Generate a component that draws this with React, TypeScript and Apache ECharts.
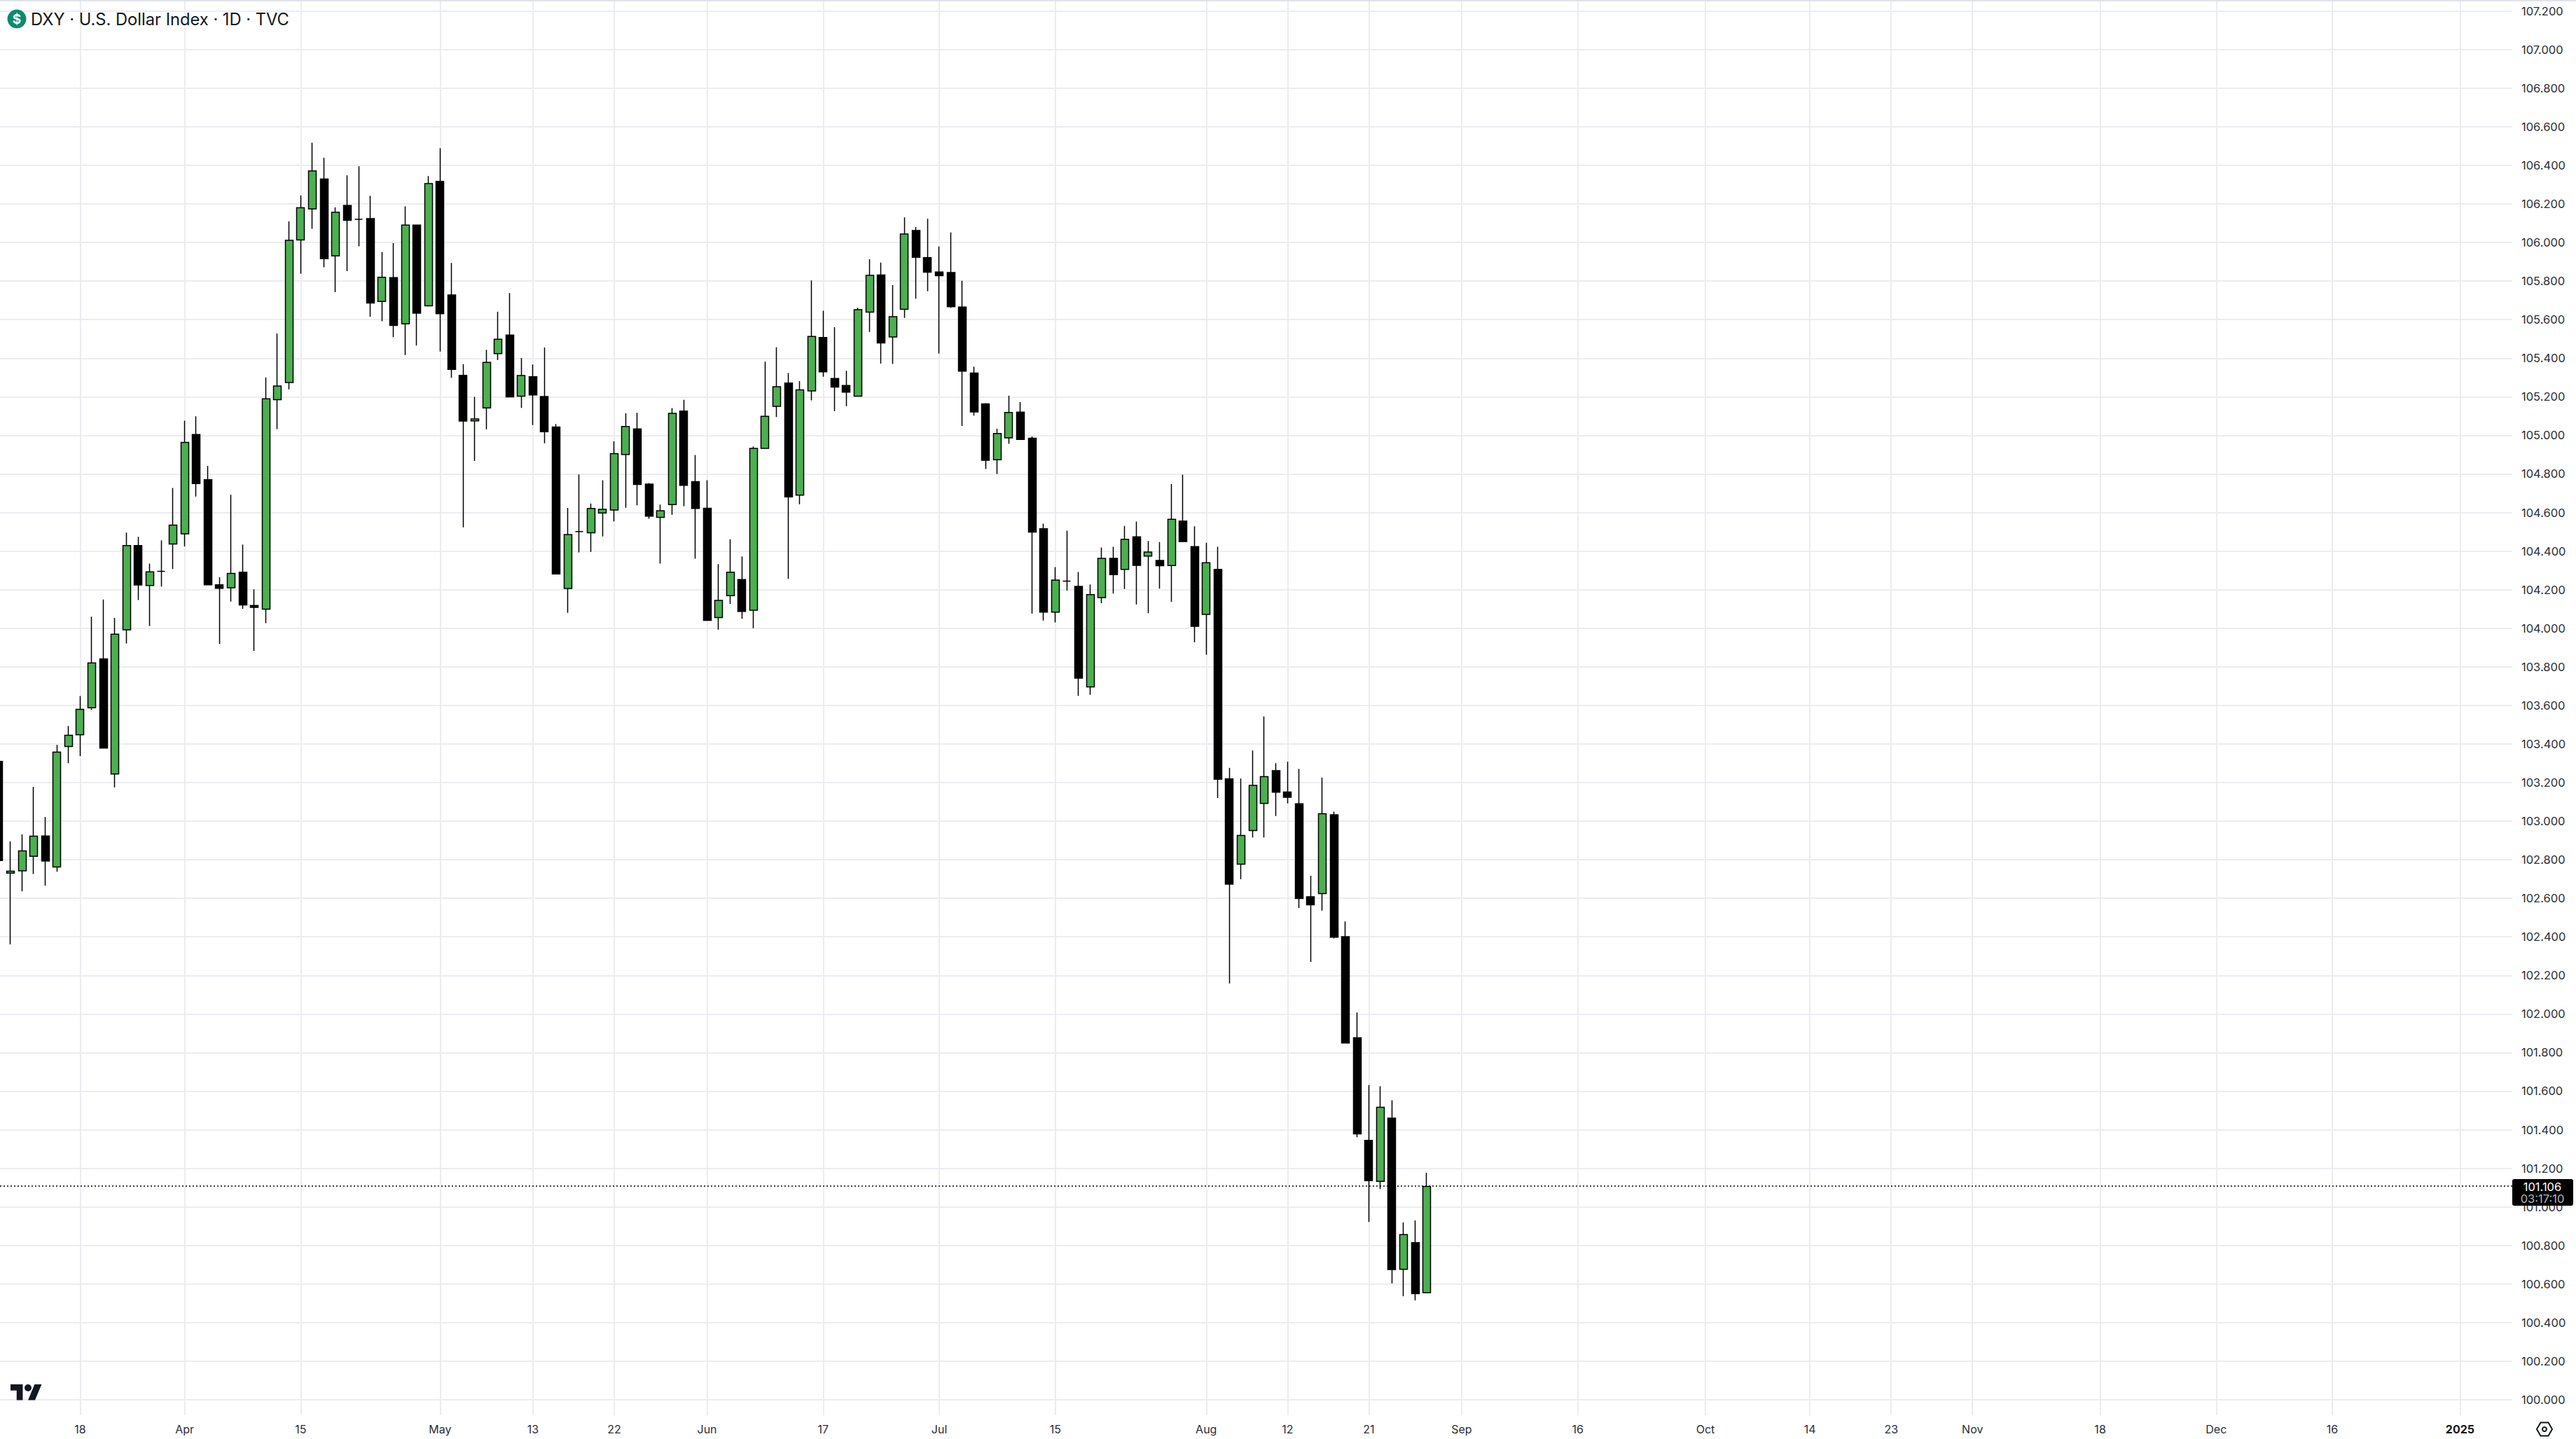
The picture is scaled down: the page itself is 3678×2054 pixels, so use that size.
import React, { useEffect, useRef } from "react";
import * as echarts from "echarts";

const firstIndex = -1;
const opens = [103.31,102.73,102.742,102.818,102.923,102.762,103.387,103.448,103.588,103.841,103.244,103.992,104.428,104.221,104.295,104.437,104.489,105.004,104.77,104.225,104.21,104.29,104.118,104.099,105.185,105.274,106.013,106.174,106.329,105.93,106.192,106.12,106.124,105.694,105.818,105.578,106.09,105.672,106.316,105.728,105.311,105.075,105.142,105.424,105.52,105.203,105.304,105.201,105.043,104.206,104.501,104.495,104.597,104.613,104.901,105.033,104.747,104.575,104.641,105.126,104.76,104.622,104.055,104.169,104.252,104.093,104.932,105.15,105.271,104.69,105.23,105.507,105.295,105.258,105.203,105.639,105.831,105.51,105.653,106.062,105.921,105.847,105.844,105.665,105.323,105.163,104.873,104.987,105.12,104.985,104.516,104.083,104.244,104.217,103.696,104.159,104.362,104.305,104.474,104.374,104.351,104.325,104.556,104.423,104.072,104.305,103.219,102.777,102.951,103.092,103.262,103.151,103.09,102.608,102.624,103.033,102.401,101.877,101.345,101.132,101.46,100.676,100.814,100.555];
const closes = [102.796,102.74,102.846,102.922,102.793,103.358,103.445,103.579,103.82,103.379,103.969,104.428,104.224,104.292,104.295,104.535,104.963,104.75,104.225,104.207,104.284,104.121,104.108,105.189,105.256,106.011,106.18,106.371,105.916,106.156,106.115,106.12,105.686,105.82,105.57,106.09,105.633,106.305,105.631,105.342,105.074,105.085,105.378,105.498,105.199,105.31,105.209,105.019,104.281,104.486,104.501,104.621,104.616,104.905,105.046,104.745,104.581,104.609,105.114,104.741,104.621,104.041,104.144,104.29,104.087,104.932,105.099,105.252,104.681,105.236,105.513,105.329,105.25,105.224,105.652,105.83,105.479,105.615,106.044,105.923,105.846,105.828,105.667,105.333,105.121,104.871,105.01,105.119,104.979,104.498,104.083,104.25,104.244,103.741,104.174,104.362,104.278,104.461,104.326,104.395,104.324,104.565,104.449,104.01,104.339,103.217,102.673,102.926,103.185,103.231,103.15,103.124,102.599,102.566,103.038,102.398,101.85,101.378,101.136,101.516,100.675,100.856,100.55,101.106];
const lows = [102.75,102.361,102.636,102.726,102.665,102.738,103.301,103.337,103.577,103.379,103.174,103.921,104.146,104.012,104.216,104.307,104.424,104.683,104.225,103.918,104.138,104.101,103.883,104.026,105.032,105.238,105.838,106.071,105.871,105.742,105.851,105.98,105.614,105.592,105.509,105.416,105.465,105.668,105.435,105.298,104.523,104.867,105.031,105.39,105.199,105.142,105.053,104.959,104.281,104.08,104.393,104.396,104.476,104.554,104.625,104.637,104.567,104.335,104.588,104.633,104.36,104.041,103.993,104.126,104.049,104.0,104.932,105.095,104.256,104.643,105.181,105.304,105.126,105.151,105.203,105.536,105.372,105.37,105.609,105.708,105.747,105.424,105.661,105.049,105.102,104.825,104.8,104.956,104.979,104.076,104.04,104.03,104.195,103.649,103.655,104.13,104.18,104.203,104.123,104.078,104.205,104.137,104.449,103.927,103.863,103.12,102.158,102.699,102.915,102.915,103.026,103.092,102.55,102.27,102.536,102.392,101.85,101.361,100.922,101.092,100.603,100.537,100.515,100.555];
const highs = [103.4,102.895,102.931,103.177,103.021,103.395,103.493,103.648,104.06,104.149,104.053,104.496,104.474,104.335,104.456,104.727,105.076,105.099,104.842,104.264,104.692,104.434,104.201,105.3,105.528,106.109,106.244,106.517,106.439,106.182,106.348,106.395,106.242,105.95,105.997,106.187,106.09,106.344,106.489,105.894,105.369,105.199,105.444,105.641,105.738,105.401,105.367,105.455,105.059,104.624,104.797,104.646,104.767,104.969,105.114,105.117,104.753,104.641,105.141,105.184,104.898,104.767,104.332,104.461,104.372,104.942,105.382,105.456,105.323,105.281,105.803,105.646,105.561,105.335,105.662,105.913,105.896,105.779,106.13,106.079,106.123,105.979,106.052,105.801,105.356,105.167,105.034,105.206,105.173,104.994,104.542,104.317,104.506,104.291,104.227,104.418,104.422,104.53,104.553,104.452,104.447,104.748,104.796,104.528,104.443,104.422,103.276,103.221,103.366,103.543,103.301,103.308,103.271,102.717,103.225,103.049,102.48,102.008,101.632,101.625,101.553,100.92,100.93,101.177];

const timeTickIndex = [6,15,25,37,45,52,60,70,80,90,103,110,117,125,135,146,155,162,169,180,190,200,211];
const timeTickLabels = ["18","Apr","15","May","13","22","Jun","17","Jul","15","Aug","12","21","Sep","16","Oct","14","23","Nov","18","Dec","16","2025"];
const priceTicks = ["100.000","100.200","100.400","100.600","100.800","101.000","101.200","101.400","101.600","101.800","102.000","102.200","102.400","102.600","102.800","103.000","103.200","103.400","103.600","103.800","104.000","104.200","104.400","104.600","104.800","105.000","105.200","105.400","105.600","105.800","106.000","106.200","106.400","106.600","106.800","107.000","107.200"];
const lastPrice = 101.106;
const countdown = "03:17:10";
const titleText = "DXY · U.S. Dollar Index · 1D · TVC";

const GRID = "#ecedf1";
const INK = "#131722";
const FONT = "Inter";

export default function App() {
  const ref = useRef<HTMLDivElement>(null);
  useEffect(() => {
    document.body.style.margin = "0";
    document.body.style.overflow = "hidden";
    echarts.graphic.registerShape(
      "tvlogo",
      echarts.graphic.extendPath(
        "M14 22H7V11H0V4h14v18zM28 22h-8l7.5-18h8L28 22zM24 8a4 4 0 1 1-8 0 4 4 0 0 1 8 0z",
        {}
      ) as any
    );
    const chart = echarts.init(ref.current!, undefined, { renderer: "svg" });
    const rows = opens.map((o, i) => [i + firstIndex, o, closes[i], lows[i], highs[i]]);
    const labelByIndex: Record<number, string> = {};
    timeTickIndex.forEach((t, i) => (labelByIndex[t] = timeTickLabels[i]));
    chart.setOption({
      animation: false,
      backgroundColor: "#ffffff",
      grid: { left: 0, top: 0, width: 3587, height: 2020, containLabel: false },
      xAxis: {
        type: "value",
        min: -0.905,
        max: 215.5,
        axisLine: { show: false },
        axisTick: { show: false, customValues: timeTickIndex },
        splitLine: { show: true, lineStyle: { color: GRID, width: 2 } },
        axisLabel: {
          customValues: timeTickIndex,
          margin: 12,
          fontFamily: FONT,
          fontSize: 16,
          color: "#2a2e39",
          formatter: (v: number) => {
            const s = labelByIndex[Math.round(v)] ?? "";
            return s === "2025" ? "{b|" + s + "}" : s;
          },
          rich: { b: { fontFamily: FONT, fontSize: 16, fontWeight: 700, color: INK } },
        },
      },
      yAxis: {
        type: "value",
        position: "right",
        min: 99.92,
        max: 107.257,
        axisLine: { show: false },
        axisTick: { show: false, customValues: priceTicks.map(Number) },
        splitLine: { show: true, lineStyle: { color: GRID, width: 2 } },
        axisLabel: {
          customValues: priceTicks.map(Number),
          margin: 13,
          fontFamily: FONT,
          fontSize: 16.5,
          color: "#2a2e39",
          formatter: (v: number) => v.toFixed(3),
        },
      },
      series: [
        {
          type: "candlestick",
          data: rows,
          barWidth: 11.5,
          itemStyle: {
            color: "#4caf50",
            color0: "#000000",
            borderColor: "#000000",
            borderColor0: "#000000",
            borderColorDoji: "#000000",
            borderWidth: 1.5,
          },
          markLine: {
            silent: true,
            symbol: "none",
            z: 1,
            label: { show: false },
            lineStyle: { color: "#000000", type: [2, 3], width: 1.5 },
            data: [{ yAxis: lastPrice }],
          },
        },
      ],
      graphic: [
        { type: "rect", z: 100, shape: { x: 0, y: 0, width: 3678, height: 2 }, style: { fill: "#e0e3eb" } },
        { type: "circle", z: 100, shape: { cx: 24, cy: 27, r: 13.5 }, style: { fill: "#0f8a6e" } },
        { type: "text", z: 101, x: 24, y: 27, style: { text: "$", fill: "#ffffff", font: "700 19px Inter", align: "center", verticalAlign: "middle" } },
        { type: "text", z: 101, x: 44, y: 27, style: { text: titleText, fill: INK, font: "23.7px Inter", align: "left", verticalAlign: "middle" } },
        { type: "tvlogo", z: 100, x: 15, y: 1971, scaleX: 1.25, scaleY: 1.25, style: { fill: INK } },
        { type: "rect", z: 100, shape: { x: 3587, y: 1683, width: 87, height: 38, r: 3 }, style: { fill: "#000000" } },
        { type: "text", z: 101, x: 3630, y: 1694, style: { text: lastPrice.toFixed(3), fill: "#ffffff", font: "16.5px Inter", align: "center", verticalAlign: "middle" } },
        { type: "text", z: 101, x: 3630, y: 1711, style: { text: countdown, fill: "#b2b5be", font: "16.5px Inter", align: "center", verticalAlign: "middle" } },
        { type: "polygon", z: 100, shape: { points: [[3622, 2040], [3627.5, 2030.5], [3638.5, 2030.5], [3644, 2040], [3638.5, 2049.5], [3627.5, 2049.5]] }, style: { fill: "none", stroke: INK, lineWidth: 2 } },
        { type: "circle", z: 100, shape: { cx: 3633, cy: 2040, r: 3 }, style: { fill: "none", stroke: INK, lineWidth: 2 } },
      ],
    });
    return () => chart.dispose();
  }, []);
  return <div ref={ref} style={{ position: "fixed", left: 0, top: 0, width: 3678, height: 2054 }} />;
}
